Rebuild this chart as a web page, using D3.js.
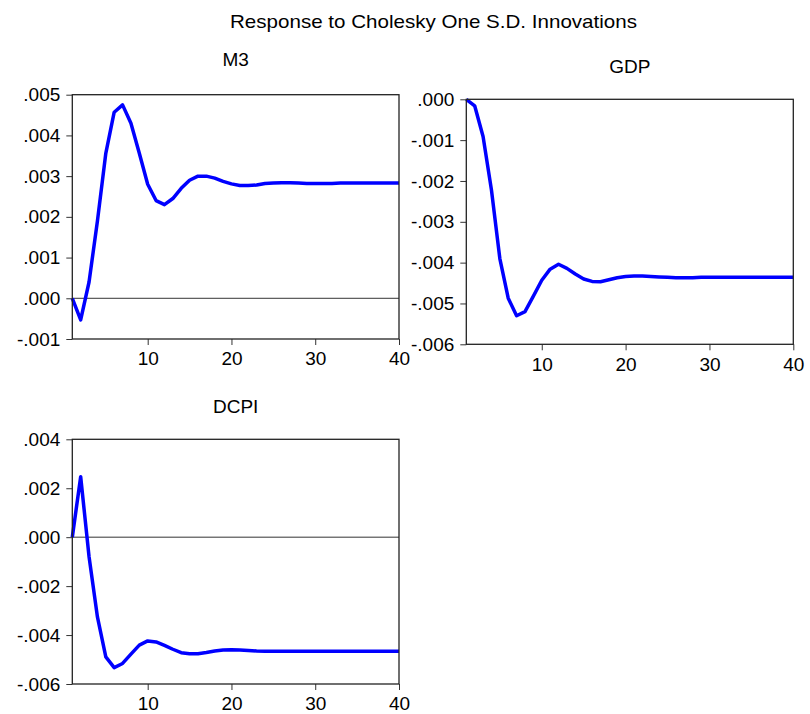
<!DOCTYPE html>
<html>
<head>
<meta charset="utf-8">
<script src="https://cdn.jsdelivr.net/npm/d3@7"></script>
<style>
  body { margin: 0; background: #fff; }
  svg text { font-family: "Liberation Sans", Arial, sans-serif; fill: #000; }
</style>
</head>
<body>
<svg id="chart" width="810" height="714"></svg>
<script>
// impulse responses, periods 1..40
const periods = d3.range(1, 41);
const m3 = [0, -0.00053, 0.0004, 0.0019, 0.00356, 0.00457, 0.00475, 0.0043, 0.00356, 0.0028,
  0.0024, 0.0023, 0.00245, 0.0027, 0.0029, 0.003, 0.003, 0.00295, 0.00287, 0.00281,
  0.00277, 0.00277, 0.00278, 0.00282, 0.00283, 0.00284, 0.00284, 0.00283, 0.00282, 0.00282,
  0.00282, 0.00282, 0.00283, 0.00283, 0.00283, 0.00283, 0.00283, 0.00283, 0.00283, 0.00283];
const gdp = [0, -0.00016, -0.00091, -0.00222, -0.0039, -0.00487, -0.0053, -0.0052, -0.00482, -0.00443,
  -0.00416, -0.00404, -0.00414, -0.00428, -0.0044, -0.00446, -0.00447, -0.00442, -0.00437, -0.00434,
  -0.00433, -0.00433, -0.00434, -0.00435, -0.00436, -0.00437, -0.00437, -0.00437, -0.00436, -0.00436,
  -0.00436, -0.00436, -0.00436, -0.00436, -0.00436, -0.00436, -0.00436, -0.00436, -0.00436, -0.00436];
const dcpi = [0, 0.00247, -0.0008, -0.00326, -0.00489, -0.00533, -0.00516, -0.00478, -0.00441, -0.00424,
  -0.00428, -0.00442, -0.00458, -0.00472, -0.00476, -0.00476, -0.00471, -0.00465, -0.00461, -0.0046,
  -0.00461, -0.00463, -0.00465, -0.00466, -0.00466, -0.00466, -0.00466, -0.00466, -0.00466, -0.00466,
  -0.00466, -0.00466, -0.00466, -0.00466, -0.00466, -0.00466, -0.00466, -0.00466, -0.00466, -0.00466];

const xTicks = [10, 20, 30, 40];
const m3Ticks = [-0.001, 0, 0.001, 0.002, 0.003, 0.004, 0.005];
const gdpTicks = [-0.006, -0.005, -0.004, -0.003, -0.002, -0.001, 0];
const dcpiTicks = [-0.006, -0.004, -0.002, 0, 0.002, 0.004];

const mainTitle = "Response to Cholesky One S.D. Innovations";

const panels = [
  {title: "M3", values: m3, ticks: m3Ticks, box: {l: 72.3, r: 399, t: 94.7, b: 339}, titleY: 65.7},
  {title: "GDP", values: gdp, ticks: gdpTicks, box: {l: 466.3, r: 793.3, t: 99.3, b: 344.3}, titleY: 73.3},
  {title: "DCPI", values: dcpi, ticks: dcpiTicks, box: {l: 72.3, r: 399, t: 439.3, b: 684}, titleY: 413.3}
];

const svg = d3.select("#chart");
// EViews style: ".005", "-.001" with a plain hyphen
const fmt = v => d3.format(".3f")(v).replace("\u2212", "-").replace(/^(-?)0\./, "$1.");

svg.append("text")
  .attr("x", 433.5).attr("y", 28)
  .attr("text-anchor", "middle")
  .attr("font-size", 19)
  .attr("textLength", 407)
  .attr("lengthAdjust", "spacingAndGlyphs")
  .text(mainTitle);

panels.forEach(p => {
  const b = p.box;
  const x = d3.scaleLinear().domain([1, 40]).range([b.l, b.r]);
  const y = d3.scaleLinear().domain(d3.extent(p.ticks)).range([b.b, b.t]);
  const g = svg.append("g");

  g.append("text")
    .attr("x", (b.l + b.r) / 2).attr("y", p.titleY)
    .attr("text-anchor", "middle")
    .attr("font-size", 19)
    .text(p.title);

  // zero line
  if (y.domain()[0] < 0 && y.domain()[1] > 0) {
    g.append("line")
      .attr("x1", b.l).attr("x2", b.r)
      .attr("y1", y(0)).attr("y2", y(0))
      .attr("stroke", "#333").attr("stroke-width", 1);
  }

  const yAxis = g.append("g")
    .attr("transform", `translate(${b.l},0)`)
    .call(d3.axisLeft(y).tickValues(p.ticks).tickFormat(fmt).tickSize(6).tickPadding(6));
  const xAxis = g.append("g")
    .attr("transform", `translate(0,${b.b})`)
    .call(d3.axisBottom(x).tickValues(xTicks).tickSize(6).tickPadding(7));
  [yAxis, xAxis].forEach(a => {
    a.select(".domain").remove();
    a.selectAll("line").attr("stroke", "#333");
    a.selectAll("text").attr("font-size", 19).attr("font-family", null).attr("fill", "#000");
  });

  g.append("path")
    .datum(p.values)
    .attr("fill", "none")
    .attr("stroke", "#0000ff")
    .attr("stroke-width", 3.5)
    .attr("stroke-linejoin", "round")
    .attr("d", d3.line().x((d, i) => x(periods[i])).y(d => y(d)));

  g.append("rect")
    .attr("x", b.l).attr("y", b.t)
    .attr("width", b.r - b.l).attr("height", b.b - b.t)
    .attr("fill", "none").attr("stroke", "#222").attr("stroke-width", 1.3);
});
</script>
</body>
</html>
